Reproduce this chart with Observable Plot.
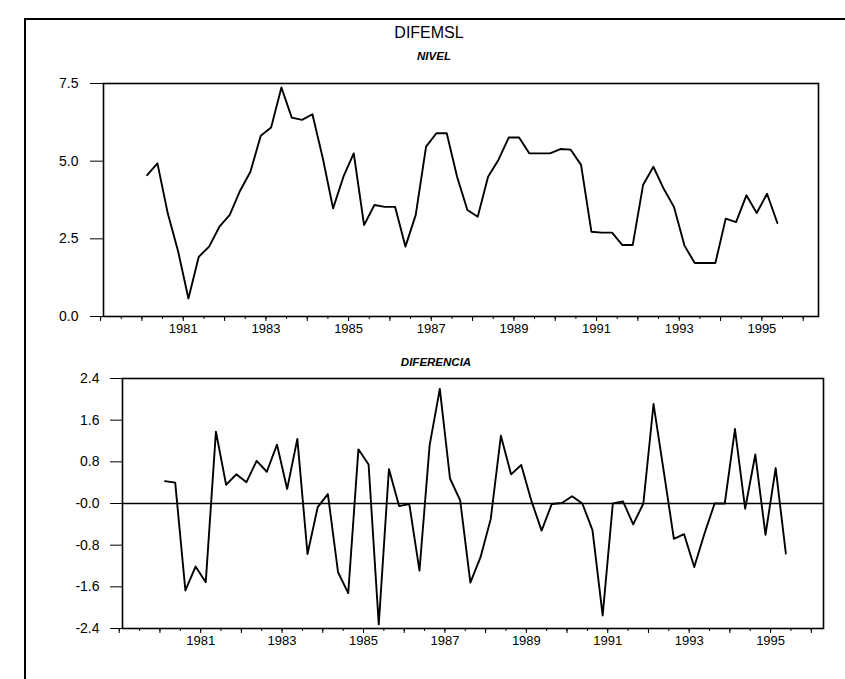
<!DOCTYPE html>
<html>
<head>
<meta charset="utf-8">
<script src="https://cdn.jsdelivr.net/npm/d3@7"></script>
<script src="https://cdn.jsdelivr.net/npm/@observablehq/plot@0.6"></script>
<style>
  html, body { margin: 0; padding: 0; background: #fff; }
  #page { position: relative; width: 845px; height: 679px; overflow: hidden; background: #fff; color: #000;
          font-family: "Liberation Sans", Arial, sans-serif; }
  #border { position: absolute; left: 24px; top: 18px; width: 900px; height: 700px;
            border-left: 2px solid #000; border-top: 2px solid #000; }
  .lbl { position: absolute; transform: translateX(-50%); white-space: nowrap; }
  #title { left: 429px; top: 24px; font-size: 16px; }
  #sub1 { left: 434px; top: 50px; font-size: 11.5px; font-weight: bold; font-style: italic; }
  #sub2 { left: 436px; top: 356px; font-size: 11.5px; font-weight: bold; font-style: italic; }
  .plot { position: absolute; left: 0; }
</style>
</head>
<body>
<div id="page">
  <div id="border"></div>
  <div class="lbl" id="title">DIFEMSL</div>
  <div class="lbl" id="sub1">NIVEL</div>
  <div class="lbl" id="sub2">DIFERENCIA</div>
  <div class="plot" id="p1" style="top:60px"></div>
  <div class="plot" id="p2" style="top:370px"></div>
</div>
<script>
// Quarterly series, first observation 1980 Q1
const startYear = 1980;
const nivel = [
  4.55, 4.93, 3.32, 2.10, 0.58, 1.92, 2.25, 2.89, 3.27, 4.05,
  4.66, 5.82, 6.08, 7.37, 6.40, 6.33, 6.51, 5.10, 3.48, 4.50,
  5.25, 2.94, 3.59, 3.53, 3.53, 2.25, 3.27, 5.47, 5.90, 5.90,
  4.50, 3.43, 3.21, 4.50, 5.04, 5.76, 5.76, 5.25, 5.25, 5.25,
  5.39, 5.37, 4.88, 2.73, 2.70, 2.70, 2.30, 2.30, 4.23, 4.82,
  4.11, 3.52, 2.29, 1.72, 1.72, 1.72, 3.15, 3.04, 3.90, 3.33,
  3.95, 3.01
];
const diferencia = [
  0.43, 0.40, -1.67, -1.21, -1.51, 1.38, 0.36, 0.56, 0.41, 0.82,
  0.61, 1.13, 0.28, 1.24, -0.97, -0.07, 0.18, -1.32, -1.72, 1.04,
  0.75, -2.32, 0.66, -0.05, -0.01, -1.29, 1.12, 2.20, 0.48, 0.06,
  -1.52, -1.03, -0.30, 1.30, 0.56, 0.74, 0.05, -0.52, -0.01, 0.01,
  0.14, 0.00, -0.51, -2.15, 0.00, 0.04, -0.40, 0.00, 1.91, 0.62,
  -0.68, -0.59, -1.22, -0.58, 0.00, 0.00, 1.43, -0.10, 0.94, -0.60,
  0.68, -0.96
];
const yearTicks = [1979, 1980, 1981, 1982, 1983, 1984, 1985, 1986, 1987, 1988, 1989, 1990, 1991, 1992, 1993, 1994, 1995, 1996];
const yearLabels = [1981, 1983, 1985, 1987, 1989, 1991, 1993, 1995];
const nivelTicks = [0, 2.5, 5.0, 7.5];
const nivelTickLabels = ["0.0", "2.5", "5.0", "7.5"];
const difTicks = [-2.4, -1.6, -0.8, 0, 0.8, 1.6, 2.4];
const difTickLabels = ["-2.4", "-1.6", "-0.8", "-0.0", "0.8", "1.6", "2.4"];

// time of each observation (middle of the quarter)
const when = (i) => startYear + (i + 0.5) / 4;
const nivelData = nivel.map((v, i) => ({t: when(i), v}));
const difData = diferencia.map((v, i) => ({t: when(i), v}));
const quarterTicks = d3.range(yearTicks[0], yearTicks[yearTicks.length - 1] + 0.01, 0.5);

function xAxes() {
  return [
    Plot.axisX({ticks: quarterTicks, tickSize: 3, tickFormat: () => "", label: null, strokeWidth: 1}),
    Plot.axisX({ticks: yearTicks, tickSize: 5, tickPadding: 2, label: null, fontSize: 13,
      tickFormat: d => yearLabels.includes(d) ? String(d) : ""})
  ];
}

const p1 = Plot.plot({
  width: 845, height: 290,
  marginLeft: 103, marginRight: 27, marginTop: 23, marginBottom: 34,
  style: {fontFamily: '"Liberation Sans", Arial, sans-serif', color: "#000", background: "transparent"},
  x: {domain: [1979.07, 1996.37]},
  y: {domain: [0, 7.5]},
  marks: [
    Plot.frame({strokeWidth: 1.6}),
    Plot.axisY({ticks: nivelTicks, tickSize: 13, tickPadding: 12, label: null, fontSize: 14,
      tickFormat: d => nivelTickLabels[nivelTicks.indexOf(d)]}),
    ...xAxes(),
    Plot.line(nivelData, {x: "t", y: "v", stroke: "#000", strokeWidth: 1.9})
  ]
});
document.getElementById("p1").appendChild(p1);

const p2 = Plot.plot({
  width: 845, height: 300,
  marginLeft: 122, marginRight: 22, marginTop: 8, marginBottom: 42,
  style: {fontFamily: '"Liberation Sans", Arial, sans-serif', color: "#000", background: "transparent"},
  x: {domain: [1979.08, 1996.3]},
  y: {domain: [-2.4, 2.4]},
  marks: [
    Plot.frame({strokeWidth: 1.6}),
    Plot.ruleY([0], {stroke: "#000", strokeWidth: 1.6}),
    Plot.axisY({ticks: difTicks, tickSize: 12, tickPadding: 11, label: null, fontSize: 14,
      tickFormat: d => difTickLabels[difTicks.indexOf(d)]}),
    ...xAxes(),
    Plot.line(difData, {x: "t", y: "v", stroke: "#000", strokeWidth: 1.9})
  ]
});
document.getElementById("p2").appendChild(p2);
</script>
</body>
</html>
